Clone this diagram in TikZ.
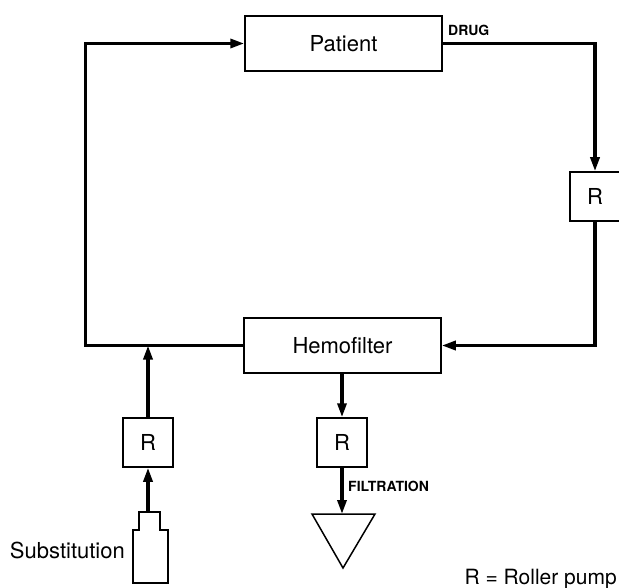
\documentclass[tikz,border=0pt]{standalone}
\usepackage{fontspec}
\setmainfont{TeX Gyre Heros}
\usetikzlibrary{arrows.meta,positioning}

\begin{document}
\begin{tikzpicture}[x=1pt,y=-1pt,
		unit/.style={rectangle,draw=black,line width=1.5pt,inner sep=0pt,minimum width=197pt,minimum height=55pt,font=\fontsize{22}{26}\selectfont},
		pump/.style={rectangle,draw=black,line width=1.5pt,inner sep=0pt,minimum width=50pt,minimum height=49pt,font=\fontsize{22}{26}\selectfont},
		flow/.style={line width=3.3pt,line join=miter,-{Triangle[length=14pt,width=9pt]}},
		tag/.style={font=\fontsize{14}{17}\selectfont\bfseries,inner sep=0pt},
		caption/.style={font=\fontsize{22}{26}\selectfont,inner sep=0pt}]

	\useasboundingbox (0,0) rectangle (619,588);

	\node[unit] (patient) at (343.5,43.5) {Patient};
	\node[unit] (hemo) at (342.5,345.5) {Hemofilter};
	\node[pump] (pumpR) at (595,196.5) {R};
	\node[pump] (pumpS) at (148,442.5) {R};
	\node[pump] (pumpF) at (342,442.5) {R};

	% substitution bottle and filtrate bag
	\draw[line width=1.5pt,line join=miter] (139,512) -- (160,512) -- (160,530) -- (168,530) -- (168,583)
		-- (133,583) -- (133,530) -- (139,530) -- cycle;
	\coordinate (bottle) at (148,512);
	\draw[line width=1.5pt,line join=miter] (312,514) -- (375,514) -- (343,568) -- cycle;
	\coordinate (bag) at (342,514);
	\path (hemo.west) ++(-158,0) coordinate (loopL);

	% circuit
	\draw[flow] (hemo.west) -- (loopL) |- (patient.west);
	\draw[flow] (patient.east) -| (pumpR.north);
	\draw[flow] (pumpR.south) |- (hemo.east);
	\draw[flow] (pumpS.north) -- (pumpS.north |- loopL);
	\draw[flow] (bottle) -- (pumpS.south);
	\draw[flow] (hemo.south -| pumpF.north) -- (pumpF.north);
	\draw[flow] (pumpF.south) -- (bag);

	% labels
	\node[tag,anchor=base west] (drug) at (448,36) {DRUG};
	\node[tag,anchor=base west] (filt) at (348,491) {FILTRATION};
	\node[caption,anchor=base east] (subst) at (125,558) {Substitution};
	\node[caption,anchor=base east,font=\fontsize{21}{25}\selectfont] (legend) at (617,584) {R = Roller pump};
\end{tikzpicture}
\end{document}
